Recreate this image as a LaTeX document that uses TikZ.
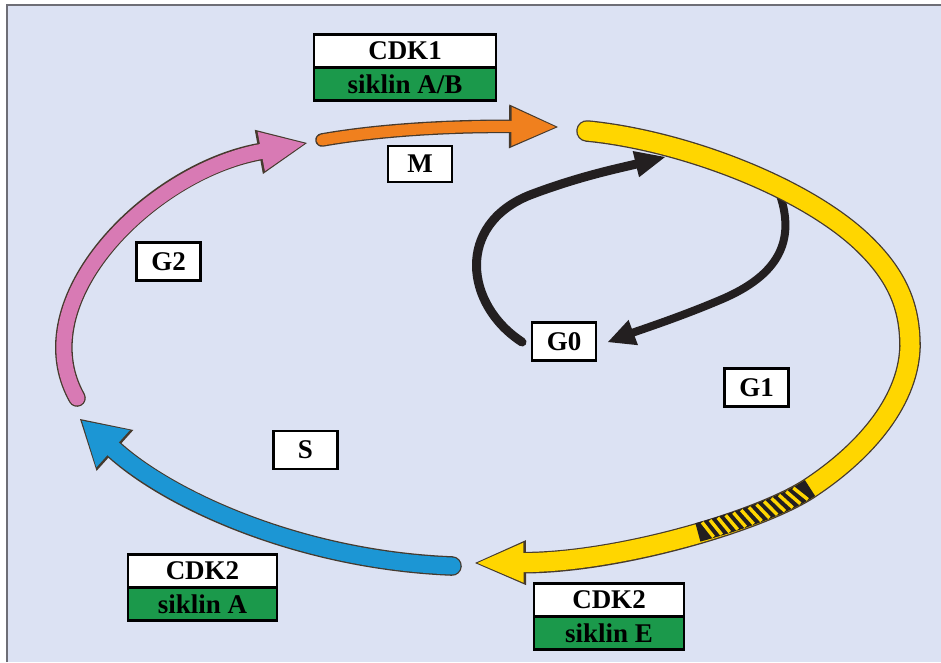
\documentclass[tikz,border=0pt]{standalone}
\usepackage{fontspec}
\setmainfont{Liberation Serif}
\usetikzlibrary{positioning,arrows.meta,decorations.markings}

\definecolor{paper}{RGB}{220,226,243}
\definecolor{framegray}{RGB}{110,110,118}
\definecolor{yellowband}{RGB}{255,214,0}
\definecolor{orangeband}{RGB}{240,128,30}
\definecolor{pinkband}{RGB}{216,122,180}
\definecolor{blueband}{RGB}{28,150,212}
\definecolor{edgeink}{RGB}{70,58,45}
\definecolor{arrowink}{RGB}{35,31,32}
\definecolor{cyclingreen}{RGB}{27,153,75}

\newcommand{\boxfont}{\fontsize{27}{30}\selectfont\bfseries}

\tikzset{
  phasebox/.style={draw=black, line width=2.2pt, fill=white, inner sep=0pt,
    minimum width=64pt, minimum height=38pt, font=\boxfont},
  cdkbox/.style={draw=black, line width=2.2pt, fill=white, inner sep=0pt,
    minimum height=33pt, font=\boxfont},
  cyclinbox/.style={cdkbox, fill=cyclingreen},
  bandedge/.style={draw=edgeink, line cap=round},
  restline/.style={draw=arrowink, line width=9pt, line cap=round}
}

\begin{document}
\begin{tikzpicture}[x=1pt,y=-1pt]
\useasboundingbox (0,0) rectangle (941,662);
\fill [white] (0,0) rectangle (941,662);
\fill [paper] (7,5) rectangle (941,662);
\draw [framegray, line width=2.4pt] (7,662) -- (7,5) -- (941,5);

% end points of the cycle arcs
\coordinate (y0) at (587,131);
\coordinate (y1) at (475,563);
\coordinate (h0) at (810,488);
\coordinate (o0) at (322,140);
\coordinate (o1) at (558,127);
\coordinate (p0) at (77,398);
\coordinate (p1) at (307,143);
\coordinate (b0) at (452,566);
\coordinate (b1) at (80,419);
\coordinate (k0) at (522,342);
\coordinate (k1) at (665,157);
\coordinate (k2) at (780,195);
\coordinate (k3) at (608,342);

% G0 loop
\draw [restline, -{Triangle[width=27pt,length=30pt,line width=0pt]}] (k0) .. controls (465,305) and (455,225) .. (530,195) .. controls (580,176) and (620,168) .. (k1);
\draw [restline, line width=8pt, -{Triangle[width=27pt,length=27pt,line width=0pt]}] (k2) .. controls (795,240) and (780,275) .. (720,300) .. controls (680,317) and (640,330) .. (k3);

% G1
\draw [bandedge, line width=21.6pt, -{Triangle[width=45pt,length=51pt,line width=0pt]}] (y0) .. controls (680,140) and (800,185) .. (860,240) .. controls (900,277) and (910,310) .. (910,347) .. controls (908,405) and (860,455) .. (h0) .. controls (760,521) and (620,562) .. (y1);
\draw [yellowband, line width=19pt, line cap=round, shorten >=2.5pt, -{Triangle[width=40pt,length=46pt,line width=0pt]}] (y0) .. controls (680,140) and (800,185) .. (860,240) .. controls (900,277) and (910,310) .. (910,347) .. controls (908,405) and (860,455) .. (h0) .. controls (760,521) and (620,562) .. (y1);
\draw [arrowink, line width=19pt, dash pattern=on 121pt off 900pt] (h0) .. controls (760,521) and (620,562) .. (y1);
\path [decorate, decoration={markings, mark=between positions 11pt and 111pt step 8.3pt with {\draw [yellowband, line width=3.4pt] (3.5,8.6) -- (-3.5,-8.6);}}] (h0) .. controls (760,521) and (620,562) .. (y1);

% M
\draw [bandedge, line width=13.6pt, -{Triangle[width=44pt,length=49pt,line width=0pt]}] (o0) .. controls (390,128) and (470,126) .. (o1);
\draw [orangeband, line width=11pt, line cap=round, shorten >=2.5pt, -{Triangle[width=39pt,length=44pt,line width=0pt]}] (o0) .. controls (390,128) and (470,126) .. (o1);

% G2
\draw [bandedge, line width=17.6pt, -{Triangle[width=45pt,length=49pt,line width=0pt]}] (p0) .. controls (22,300) and (150,172) .. (p1);
\draw [pinkband, line width=15pt, line cap=round, shorten >=2.5pt, -{Triangle[width=40pt,length=44pt,line width=0pt]}] (p0) .. controls (22,300) and (150,172) .. (p1);

% S
\draw [bandedge, line width=19.6pt, -{Triangle[width=55pt,length=47pt,line width=0pt]}] (b0) .. controls (300,560) and (170,500) .. (b1);
\draw [blueband, line width=17pt, line cap=round, shorten >=2.5pt, -{Triangle[width=50pt,length=42pt,line width=0pt]}] (b0) .. controls (300,560) and (170,500) .. (b1);

% phase labels
\node [phasebox, minimum height=36pt] (m) at (420,164) {M};
\node [phasebox] (g2) at (168.5,261.5) {G2};
\node [phasebox] (g0) at (564,341.5) {G0};
\node [phasebox] (g1) at (756.5,387.5) {G1};
\node [phasebox] (s) at (305.5,450) {S};

% kinase / cyclin pairs
\node [cdkbox, minimum width=182pt] (cdk1) at (405,51) {CDK1};
\node [cyclinbox, minimum width=182pt, below=-2.2pt of cdk1] (cycAB) {siklin A/B};
\node [cdkbox, minimum width=149pt] (cdk2s) at (202.5,571) {CDK2};
\node [cyclinbox, minimum width=149pt, below=-2.2pt of cdk2s] (cycA) {siklin A};
\node [cdkbox, minimum width=150pt] (cdk2g) at (609,600) {CDK2};
\node [cyclinbox, minimum width=150pt, below=-2.2pt of cdk2g] (cycE) {siklin E};
\end{tikzpicture}
\end{document}
